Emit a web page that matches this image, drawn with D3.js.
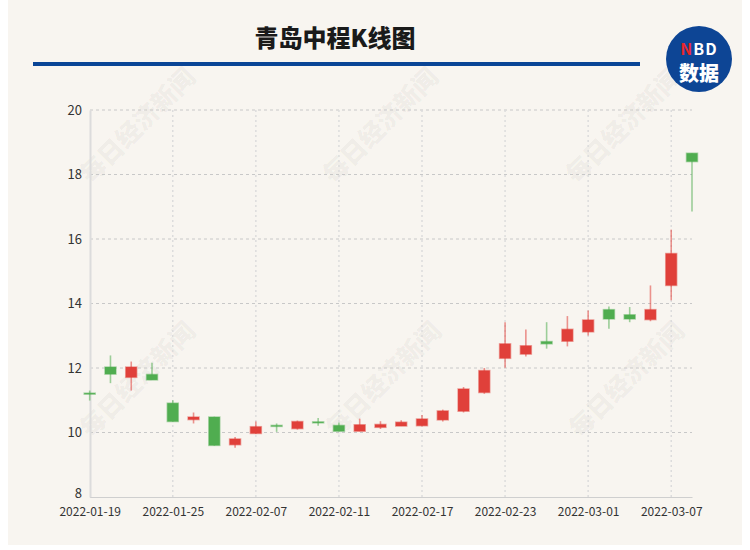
<!DOCTYPE html>
<html>
<head>
<meta charset="utf-8">
<script src="https://cdn.jsdelivr.net/npm/d3@7"></script>
<style>
  html, body { margin: 0; padding: 0; background: #ffffff; }
  svg { display: block; }
  text { font-family: "Noto Sans CJK SC", "Noto Sans", sans-serif; }
</style>
</head>
<body>
<svg id="chart" width="750" height="550"></svg>
<script>
const dates = ["2022-01-19","2022-01-20","2022-01-21","2022-01-24","2022-01-25","2022-01-26","2022-01-27","2022-01-28","2022-02-07","2022-02-08","2022-02-09","2022-02-10","2022-02-11","2022-02-14","2022-02-15","2022-02-16","2022-02-17","2022-02-18","2022-02-21","2022-02-22","2022-02-23","2022-02-24","2022-02-25","2022-02-28","2022-03-01","2022-03-02","2022-03-03","2022-03-04","2022-03-07","2022-03-08"];
const openVals  = [11.22,12.03,11.71,11.80,10.91,10.40,10.48,9.62,9.97,10.22,10.12,10.33,10.22,10.04,10.16,10.20,10.21,10.39,10.66,11.24,12.30,12.43,12.82,12.83,13.12,13.81,13.65,13.50,14.56,18.66];
const closeVals = [11.20,11.81,12.03,11.63,10.34,10.48,9.60,9.80,10.18,10.19,10.34,10.31,10.04,10.24,10.25,10.32,10.42,10.67,11.35,11.92,12.75,12.69,12.75,13.20,13.49,13.52,13.52,13.81,15.55,18.40];
const lowVals   = [10.99,11.53,11.30,11.63,10.34,10.28,9.59,9.53,9.95,10.02,10.09,10.21,10.04,10.04,10.11,10.20,10.19,10.34,10.62,11.20,12.01,12.36,12.60,12.67,13.01,13.22,13.42,13.45,14.10,16.85];
const highVals  = [11.30,12.39,12.20,12.16,11.00,10.62,10.49,9.86,10.34,10.28,10.37,10.45,10.31,10.43,10.35,10.38,10.54,10.71,11.41,12.00,13.42,13.19,13.42,13.61,13.78,13.91,13.89,14.56,16.29,18.66];
const yTicks = [8,10,12,14,16,18,20];
const xTickLabels = ["2022-01-19","2022-01-25","2022-02-07","2022-02-11","2022-02-17","2022-02-23","2022-03-01","2022-03-07"];
const titleText = "青岛中程K线图";
const watermarkText = "每日经济新闻";

const svg = d3.select("#chart");

// background
svg.append("rect").attr("x", 8).attr("y", 0).attr("width", 734).attr("height", 545).attr("fill", "#f8f5f0");

// watermarks
const wm = svg.append("g");
[[136,124],[379,124],[622,124],[136,378],[382,378],[625,378]].forEach(([cx,cy]) => {
  wm.append("text")
    .attr("transform", `translate(${cx},${cy}) rotate(-45)`)
    .attr("text-anchor", "middle").attr("dominant-baseline", "central")
    .attr("font-size", 25).attr("font-weight", "900")
    .attr("fill", "#000").attr("fill-opacity", 0.055)
    .text(watermarkText);
});

// title
svg.append("text").attr("x", 335).attr("y", 47).attr("text-anchor", "middle")
  .attr("font-size", 24).attr("font-weight", "900").attr("fill", "#1a1a1a")
  .text(titleText);
svg.append("rect").attr("x", 33).attr("y", 62).attr("width", 607).attr("height", 4).attr("fill", "#0a4596");

// logo
svg.append("circle").attr("cx", 699).attr("cy", 59).attr("r", 33).attr("fill", "#0d4595");
const nbd = svg.append("text").attr("x", 699).attr("y", 55).attr("text-anchor", "middle")
  .attr("font-family", "Liberation Sans, Arial, sans-serif")
  .attr("font-size", 16).attr("font-weight", "bold").attr("letter-spacing", 1);
nbd.append("tspan").attr("fill", "#e8262b").text("N");
nbd.append("tspan").attr("fill", "#ffffff").text("BD");
svg.append("text").attr("x", 699).attr("y", 81).attr("text-anchor", "middle")
  .attr("font-size", 20).attr("font-weight", "900").attr("fill", "#ffffff").text("数据");

// scales
const x = d3.scalePoint().domain(dates).range([89.7, 692]);
const y = d3.scaleLinear().domain([8, 20]).range([497, 110]);

// grid horizontal
const g = svg.append("g");
g.selectAll(".hg").data(yTicks.filter(t => t !== 8)).join("line")
  .attr("x1", 90).attr("x2", 692).attr("y1", d => y(d)).attr("y2", d => y(d))
  .attr("stroke", "#c8c8c8").attr("stroke-width", 1).attr("stroke-dasharray", "3,3");
// grid vertical
g.selectAll(".vg").data(xTickLabels.slice(1)).join("line")
  .attr("x1", d => x(d)).attr("x2", d => x(d)).attr("y1", 110).attr("y2", 497)
  .attr("stroke", "#dcdcdc").attr("stroke-width", 1.5).attr("stroke-dasharray", "2,3");

// axes
const yAxis = d3.axisLeft(y).tickValues(yTicks).tickSize(0).tickPadding(8).tickFormat(d3.format("d"));
const yg = svg.append("g").attr("transform", "translate(90,0)").call(yAxis);
yg.select(".domain").attr("stroke", "#dcdcdc").attr("stroke-width", 2);
yg.selectAll("text").attr("font-size", 13).attr("fill", "#333")
  .attr("font-family", "Liberation Sans, Arial, sans-serif");
yg.selectAll(".tick").filter(d => d === 8).select("text").attr("dy", "0em");

const xAxis = d3.axisBottom(x).tickValues(xTickLabels).tickSize(0).tickPadding(10);
const xg = svg.append("g").attr("transform", "translate(0,497)").call(xAxis);
xg.select(".domain").attr("stroke", "#cfcfcf").attr("stroke-width", 1);
xg.selectAll("text").attr("font-size", 12).attr("fill", "#333")
  .attr("font-family", "Liberation Sans, Arial, sans-serif");

// candles
const data = dates.map((d, i) => ({ d, o: openVals[i], c: closeVals[i], l: lowVals[i], h: highVals[i] }));
const RED = "#e0403a", GREEN = "#50ad50";
const col = d => d.c >= d.o ? RED : GREEN;
const bw = 11;
const cg = svg.append("g");
cg.selectAll(".wick").data(data).join("line")
  .attr("x1", d => x(d.d)).attr("x2", d => x(d.d))
  .attr("y1", d => y(d.h)).attr("y2", d => y(d.l))
  .attr("stroke", col).attr("stroke-opacity", 0.55).attr("stroke-width", 1.6);
cg.selectAll(".body").data(data).join("rect")
  .attr("x", d => x(d.d) - bw / 2)
  .attr("y", d => y(Math.max(d.o, d.c)))
  .attr("width", bw)
  .attr("height", d => Math.max(1, Math.abs(y(d.o) - y(d.c))))
  .attr("fill", col).attr("stroke", col).attr("stroke-opacity", 0.45).attr("stroke-width", 1.5);
</script>
</body>
</html>
